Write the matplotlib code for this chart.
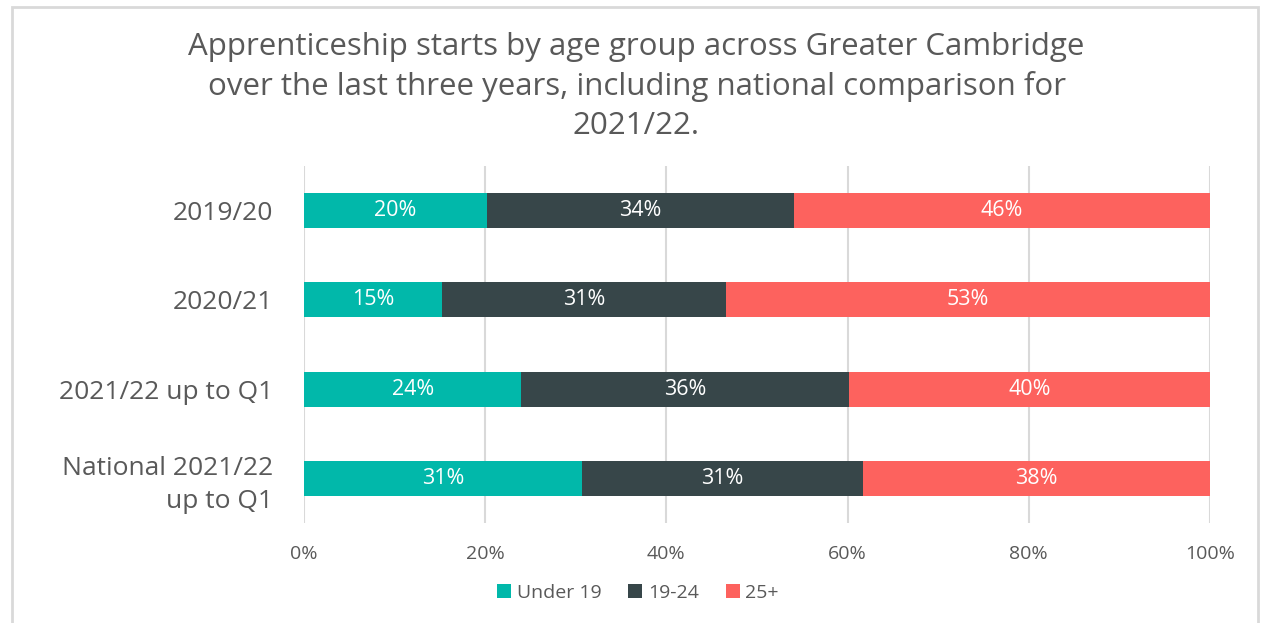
import matplotlib
matplotlib.use('Agg')
import matplotlib.pyplot as plt
import matplotlib.patches as patches
import numpy as np

# datos
categories = ['2019/20', '2020/21', '2021/22 up to Q1', 'National 2021/22\nup to Q1']
under_19 = [20.2, 15.2, 24.0, 30.7]
age_19_24 = [33.9, 31.4, 36.2, 31.0]
age_25_plus = [45.9, 53.4, 39.8, 38.3]
series_names = ['Under 19', '19-24', '25+']
colors = ['#01B8AA', '#374649', '#FD625E']
x_ticks = [0, 20, 40, 60, 80, 100]

plt.rcParams['font.family'] = ['Open Sans', 'DejaVu Sans']
grey = '#595959'

fig = plt.figure(figsize=(12.73, 6.23), dpi=100)
ax = fig.add_axes([0.2388, 0.1605, 0.7117, 0.573])

# marco gris alrededor del gráfico
frame = patches.Rectangle((12 / 1273, -0.05), (1258 - 12) / 1273, 1.05 - 7 / 623,
                          transform=fig.transFigure, fill=False,
                          edgecolor='#D9D9D9', linewidth=2)
fig.patches.append(frame)

y = np.arange(len(categories))
left = np.zeros(len(categories))
for values, name, color in zip([under_19, age_19_24, age_25_plus], series_names, colors):
    bars = ax.barh(y, values, left=left, height=0.39, color=color, label=name)
    for b, v in zip(bars, values):
        ax.text(b.get_x() + b.get_width() / 2, b.get_y() + b.get_height() / 2,
                f'{v:.0f}%', ha='center', va='center', color='white', fontsize=15.5)
    left = left + np.array(values)

ax.set_xlim(0, 100)
ax.set_ylim(3.5, -0.5)
ax.set_xticks(x_ticks)
ax.set_xticklabels([f'{t}%' for t in x_ticks], color=grey, fontsize=14)
ax.set_yticks(y)
ax.set_yticklabels(categories, color=grey, fontsize=19, linespacing=1.4)
ax.tick_params(axis='both', length=0)
ax.tick_params(axis='x', pad=16)
ax.tick_params(axis='y', pad=22)
ax.grid(axis='x', color='#D9D9D9', linewidth=1.5)
ax.set_axisbelow(True)
for s in ax.spines.values():
    s.set_visible(False)

fig.text(0.5, 1 - 32 / 623, 'Apprenticeship starts by age group across Greater Cambridge\n'
         'over the last three years, including national comparison for\n2021/22.',
         ha='center', va='top', fontsize=22.5, color=grey, linespacing=1.38)

fig.legend(loc='center', bbox_to_anchor=(638 / 1273, 1 - 593 / 623), ncol=3, frameon=False,
           fontsize=14, labelcolor=grey, handlelength=0.7, handleheight=0.7,
           handletextpad=0.3, columnspacing=1.4)

fig.savefig('out.png', dpi=100)
